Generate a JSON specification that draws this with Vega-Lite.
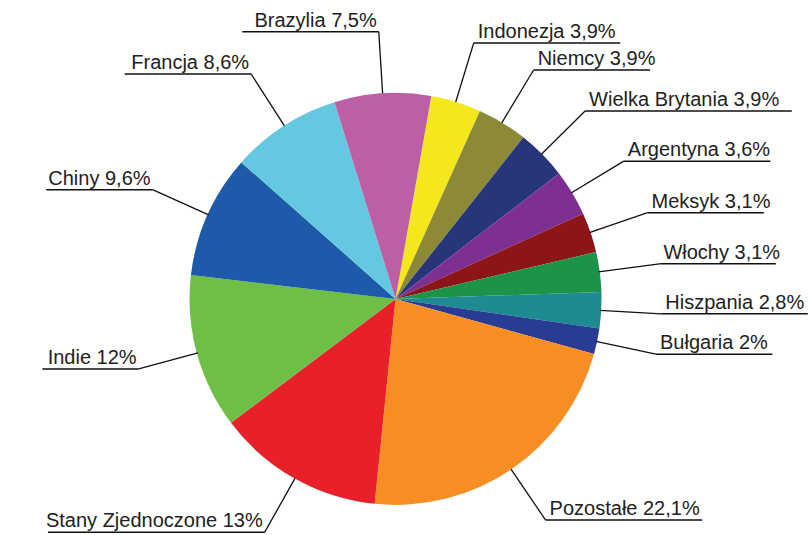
{
  "$schema": "https://vega.github.io/schema/vega-lite/v6.json",
  "width": 809,
  "height": 535,
  "padding": 0,
  "autosize": {"type": "fit", "contains": "padding"},
  "config": {"view": {"stroke": null}},
  "data": {
    "values": [
      {"name": "Indonezja", "label": "Indonezja 3,9%", "value": 3.9, "order": 1},
      {"name": "Niemcy", "label": "Niemcy 3,9%", "value": 3.9, "order": 2},
      {"name": "Wielka Brytania", "label": "Wielka Brytania 3,9%", "value": 3.9, "order": 3},
      {"name": "Argentyna", "label": "Argentyna 3,6%", "value": 3.6, "order": 4},
      {"name": "Meksyk", "label": "Meksyk 3,1%", "value": 3.1, "order": 5},
      {"name": "Włochy", "label": "Włochy 3,1%", "value": 3.1, "order": 6},
      {"name": "Hiszpania", "label": "Hiszpania 2,8%", "value": 2.8, "order": 7},
      {"name": "Bułgaria", "label": "Bułgaria 2%", "value": 2.0, "order": 8},
      {"name": "Pozostałe", "label": "Pozostałe 22,1%", "value": 22.1, "order": 9},
      {"name": "Stany Zjednoczone", "label": "Stany Zjednoczone 13%", "value": 13.0, "order": 10},
      {"name": "Indie", "label": "Indie 12%", "value": 12.0, "order": 11},
      {"name": "Chiny", "label": "Chiny 9,6%", "value": 9.6, "order": 12},
      {"name": "Francja", "label": "Francja 8,6%", "value": 8.6, "order": 13},
      {"name": "Brazylia", "label": "Brazylia 7,5%", "value": 7.5, "order": 14}
    ]
  },
  "transform": [
    {"joinaggregate": [{"op": "sum", "field": "value", "as": "total"}]},
    {"window": [{"op": "sum", "field": "value", "as": "cum"}], "sort": [{"field": "order", "order": "ascending"}], "frame": [null, 0]},
    {"calculate": "(10 + (datum.cum - datum.value / 2) / datum.total * 360) * PI / 180", "as": "a"},
    {"calculate": "sin(datum.a)", "as": "sx"},
    {"calculate": "cos(datum.a)", "as": "sy"},
    {"calculate": "1.3 * sin(datum.a)", "as": "ex"},
    {"calculate": "1.3 * cos(datum.a)", "as": "ey"},
    {"calculate": "sin(datum.a) >= 0 ? 1 : -1", "as": "side"},
    {"calculate": "datum.ex + datum.side * (length(datum.label) * 10.1 + 6) / 206", "as": "ux"}
  ],
  "layer": [
    {
      "mark": {"type": "arc", "radius": 206},
      "encoding": {
        "x": {"datum": 0, "type": "quantitative", "scale": {"domain": [-1.932, 1.995], "nice": false, "zero": false}, "axis": null},
        "y": {"datum": 0, "type": "quantitative", "scale": {"domain": [-1.146, 1.451], "nice": false, "zero": false}, "axis": null},
        "theta": {"field": "value", "type": "quantitative", "stack": true, "scale": {"range": [0.17453, 6.45772]}},
        "order": {"field": "order", "type": "quantitative"},
        "color": {
          "field": "name",
          "type": "nominal",
          "legend": null,
          "scale": {
            "domain": ["Indonezja", "Niemcy", "Wielka Brytania", "Argentyna", "Meksyk", "Włochy", "Hiszpania", "Bułgaria", "Pozostałe", "Stany Zjednoczone", "Indie", "Chiny", "Francja", "Brazylia"],
            "range": ["#F4E81C", "#8C8A37", "#27367A", "#7D2F92", "#8C1518", "#1B9447", "#1E8A92", "#283C93", "#F68E23", "#E8202A", "#6FBE45", "#1D5AA9", "#63C8E0", "#BD5FA6"]
          }
        }
      }
    },
    {
      "mark": {"type": "rule", "color": "#111", "strokeWidth": 1.3},
      "encoding": {
        "x": {"field": "sx", "type": "quantitative", "scale": {"domain": [-1.932, 1.995], "nice": false, "zero": false}, "axis": null},
        "y": {"field": "sy", "type": "quantitative", "scale": {"domain": [-1.146, 1.451], "nice": false, "zero": false}, "axis": null},
        "x2": {"field": "ex"},
        "y2": {"field": "ey"}
      }
    },
    {
      "mark": {"type": "rule", "color": "#111", "strokeWidth": 1.5},
      "encoding": {
        "x": {"field": "ex", "type": "quantitative", "scale": {"domain": [-1.932, 1.995], "nice": false, "zero": false}, "axis": null},
        "y": {"field": "ey", "type": "quantitative", "scale": {"domain": [-1.146, 1.451], "nice": false, "zero": false}, "axis": null},
        "x2": {"field": "ux"},
        "y2": {"field": "ey"}
      }
    },
    {
      "transform": [{"filter": "datum.side > 0"}],
      "mark": {"type": "text", "align": "left", "baseline": "alphabetic", "dx": 4, "dy": -5, "font": "Liberation Sans", "fontSize": 20, "color": "#222"},
      "encoding": {
        "x": {"field": "ex", "type": "quantitative", "scale": {"domain": [-1.932, 1.995], "nice": false, "zero": false}, "axis": null},
        "y": {"field": "ey", "type": "quantitative", "scale": {"domain": [-1.146, 1.451], "nice": false, "zero": false}, "axis": null},
        "text": {"field": "label"}
      }
    },
    {
      "transform": [{"filter": "datum.side < 0"}],
      "mark": {"type": "text", "align": "right", "baseline": "alphabetic", "dx": -2, "dy": -5, "font": "Liberation Sans", "fontSize": 20, "color": "#222"},
      "encoding": {
        "x": {"field": "ex", "type": "quantitative", "scale": {"domain": [-1.932, 1.995], "nice": false, "zero": false}, "axis": null},
        "y": {"field": "ey", "type": "quantitative", "scale": {"domain": [-1.146, 1.451], "nice": false, "zero": false}, "axis": null},
        "text": {"field": "label"}
      }
    }
  ]
}
